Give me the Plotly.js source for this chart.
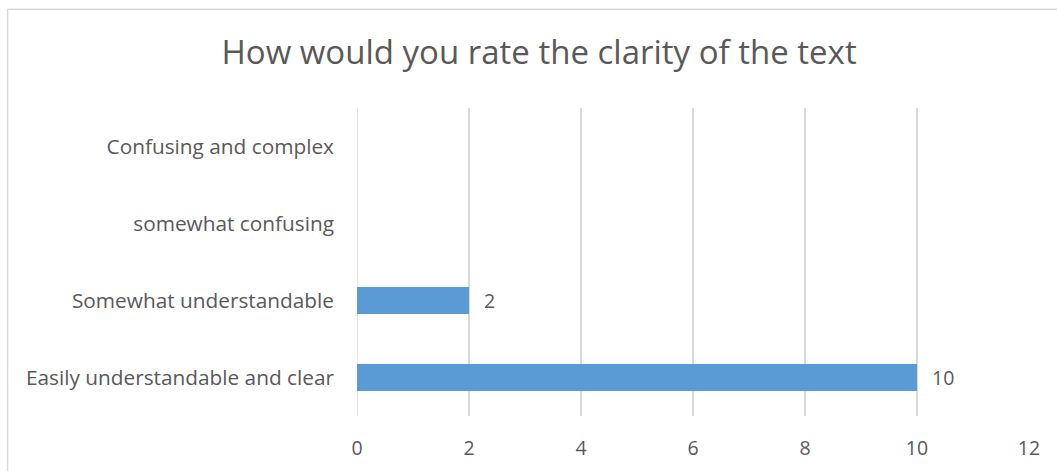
<!DOCTYPE html>
<html>
<head>
<meta charset="utf-8">
<script src="https://cdn.plot.ly/plotly-3.0.1.min.js"></script>
<style>
  html, body { margin: 0; padding: 0; background: #ffffff; }
  #chart { width: 1057px; height: 471px; }
</style>
</head>
<body>
<div id="chart"></div>
<script>
// Survey answers, listed bottom to top
const categories = [
  "Easily understandable and clear",
  "Somewhat understandable",
  "somewhat confusing",
  "Confusing and complex"
];
const counts = [10, 2, 0, 0];
const xTicks = [0, 2, 4, 6, 8, 10, 12];

const textColor = "#595959";
const gridColor = "#D9D9D9";
const fontFamily = "'Open Sans', 'Noto Sans', sans-serif";

const bars = {
  type: "bar",
  orientation: "h",
  y: categories,
  x: counts,
  width: 0.35,
  marker: { color: "#5B9BD5" },
  hoverinfo: "x+y"
};

// Value labels beside each non-empty bar
const valueLabels = counts
  .map((v, i) => ({ v, i }))
  .filter(d => d.v > 0)
  .map(d => ({
    x: d.v,
    y: categories[d.i],
    xref: "x",
    yref: "y",
    text: String(d.v),
    showarrow: false,
    xanchor: "left",
    xshift: 13,
    font: { family: fontFamily, size: 19.5, color: textColor }
  }));

const layout = {
  width: 1057,
  height: 471,
  margin: { l: 357, r: 28, t: 108, b: 55 },
  paper_bgcolor: "#ffffff",
  plot_bgcolor: "#ffffff",
  showlegend: false,
  title: {
    text: "How would you rate the clarity of the text",
    font: { family: fontFamily, size: 33, color: textColor },
    x: 0.51,
    xanchor: "center",
    y: 0.888,
    yanchor: "middle"
  },
  xaxis: {
    range: [0, 12],
    tickvals: xTicks,
    ticktext: xTicks.map(String),
    showgrid: true,
    gridcolor: gridColor,
    gridwidth: 1.3,
    zeroline: false,
    showline: false,
    ticks: "",
    ticklabelstandoff: 18,
    tickfont: { family: fontFamily, size: 19.5, color: textColor },
    fixedrange: true
  },
  yaxis: {
    type: "category",
    categoryorder: "array",
    categoryarray: categories,
    showgrid: false,
    zeroline: false,
    showline: false,
    ticks: "",
    ticklabelstandoff: 22,
    tickfont: { family: fontFamily, size: 20.8, color: textColor },
    fixedrange: true
  },
  annotations: valueLabels,
  shapes: [
    // grid line at the start of the value axis
    { type: "line", xref: "x", yref: "paper", layer: "below",
      x0: xTicks[0], x1: xTicks[0], y0: 0, y1: 1,
      line: { color: gridColor, width: 1.3 } },
    // frame edges of the chart area
    { type: "line", xref: "paper", yref: "paper",
      x0: -0.52, x1: 1.05, y0: 1.321, y1: 1.321,
      line: { color: gridColor, width: 1.5 } },
    { type: "line", xref: "paper", yref: "paper",
      x0: -0.52, x1: -0.52, y0: 1.321, y1: -0.2,
      line: { color: gridColor, width: 1.5 } }
  ]
};

Plotly.newPlot("chart", [bars], layout, { displayModeBar: false, staticPlot: true });
</script>
</body>
</html>
